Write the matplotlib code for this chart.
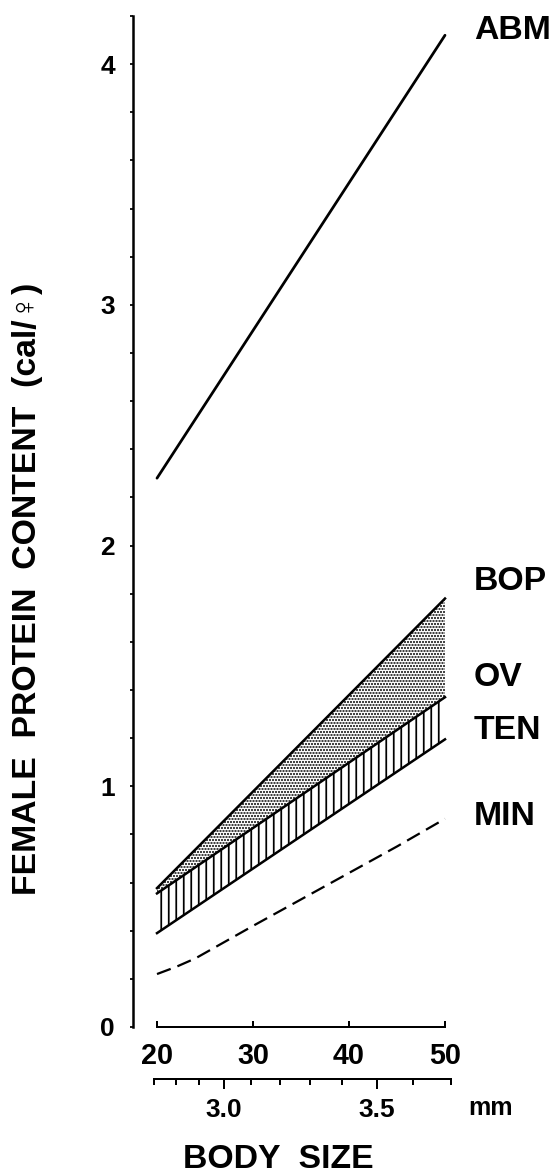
import matplotlib
matplotlib.use("Agg")
import matplotlib.pyplot as plt
import numpy as np

plt.rcParams['font.family'] = ['Liberation Sans', 'DejaVu Sans']
plt.rcParams['font.weight'] = 'bold'

# body size (x) and protein content lines
size_ends = [20, 50]
abm = [2.28, 4.12]
bop = [0.577, 1.78]
ov = [0.555, 1.37]
ten = [0.39, 1.195]

size_min = [20, 22, 24, 26, 28, 30, 35, 40, 45, 50]
min_vals = [0.22, 0.25, 0.285, 0.33, 0.375, 0.42, 0.53, 0.64, 0.75, 0.865]

line_names = ['ABM', 'BOP', 'OV', 'TEN', 'MIN']
label_y = [4.14, 1.85, 1.45, 1.23, 0.875]

size_ticks = [20, 30, 40, 50]
y_ticks = [0, 1, 2, 3, 4]
mm_major = [3.0, 3.5]
mm_minor = [2.7, 2.8, 2.9, 3.0, 3.1, 3.2, 3.3, 3.4, 3.5, 3.6, 3.7]

fig = plt.figure(figsize=(558 / 90, 1175 / 90), dpi=90)
ax = fig.add_axes([133 / 558, 1 - 1027 / 1175, (454.6 - 133) / 558, (1027 - 16) / 1175])
ax.set_xlim(17.5, 51)
ax.set_ylim(0, 4.2)

# stippled band OV-BOP
plt.rcParams['hatch.linewidth'] = 1.2
st = ax.fill_between(size_ends, ov, bop, facecolor='white', edgecolor='black',
                     hatch='.....', linewidth=0)
# vertical hatched band TEN-OV
plt.rcParams['hatch.linewidth'] = 1.4
hb = ax.fill_between(size_ends, ten, ov, facecolor='white', edgecolor='black',
                     hatch='||', linewidth=0)
if hasattr(st, 'set_hatch_linewidth'):
    st.set_hatch_linewidth(1.2)
    hb.set_hatch_linewidth(1.4)

ax.plot(size_ends, abm, color='black', lw=2.2, solid_capstyle='round')
ax.plot(size_ends, bop, color='black', lw=2.0)
ax.plot(size_ends, ov, color='black', lw=2.0)
ax.plot(size_ends, ten, color='black', lw=2.0)
ax.plot(size_min, min_vals, color='black', lw=1.8, linestyle=(0, (6.5, 3.2)))

for name, yy in zip(line_names, label_y):
    ax.text(53.0, yy, name, fontsize=27, fontweight='bold', ha='left', va='center',
            clip_on=False)

for s in ['top', 'right']:
    ax.spines[s].set_visible(False)
ax.spines['left'].set_linewidth(2.0)
ax.spines['left'].set_bounds(0, 4.2)
ax.spines['bottom'].set_linewidth(1.6)
ax.spines['bottom'].set_bounds(20, 50)

ax.set_yticks(y_ticks)
ax.set_yticks(np.arange(0, 4.21, 0.2), minor=True)
ax.set_yticklabels([str(v) for v in y_ticks])
ax.tick_params(axis='y', which='both', direction='out', length=2.5, width=1.4,
               labelsize=21, pad=12)
ax.set_xticks(size_ticks)
ax.set_xticklabels([str(v) for v in size_ticks])
ax.tick_params(axis='x', which='major', direction='in', length=5, width=1.6,
               labelsize=23, pad=12)

# second scale: body length in mm (size = length^3)
sec = ax.secondary_xaxis(-52 / 1011, functions=(lambda b: np.cbrt(b), lambda l: l ** 3))
sec.set_xticks(mm_major)
sec.set_xticklabels(['3.0', '3.5'])
sec.set_xticks(mm_minor, minor=True)
sec.spines['bottom'].set_linewidth(1.6)
sec.spines['bottom'].set_bounds(2.7, 3.7)
sec.tick_params(axis='x', which='major', direction='out', length=8, width=1.6,
                labelsize=21, pad=7)
sec.tick_params(axis='x', which='minor', direction='out', length=4.5, width=1.6)

fig.text(491 / 558, 1 - 1108 / 1175, 'mm', fontsize=20, fontweight='bold',
         ha='center', va='center')
fig.text(278 / 558, 1 - 1159 / 1175, 'BODY  SIZE', fontsize=27, fontweight='bold',
         ha='center', va='center')
fig.text(28 / 558, 1 - 589 / 1175, 'FEMALE  PROTEIN  CONTENT  (cal/♀)', fontsize=27,
         fontweight='bold', rotation=90, ha='center', va='center')

fig.savefig('out.png', dpi=90)
